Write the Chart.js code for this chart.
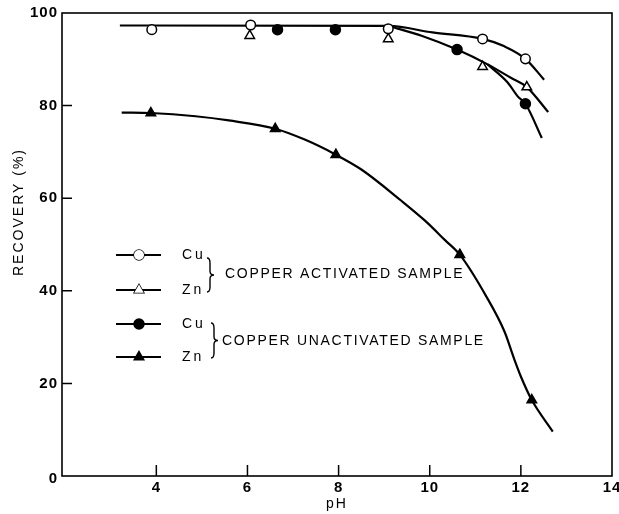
<!DOCTYPE html>
<html>
<head>
<meta charset="utf-8">
<script src="https://cdn.jsdelivr.net/npm/chart.js@4.4.0/dist/chart.umd.min.js"></script>
<style>
  html, body { margin: 0; padding: 0; background: #fff; }
  #wrap { width: 619px; height: 514px; }
</style>
</head>
<body>
<div id="wrap"><canvas id="chart"></canvas></div>
<script>
// tick labels
const xTicks = [4, 6, 8, 10, 12, 14];
const yTicks = [0, 20, 40, 60, 80, 100];

// measured points
const cuActPH = [3.9, 6.07, 9.09, 11.16, 12.1];
const cuActRec = [96.4, 97.4, 96.6, 94.4, 90.1];
const znActPH = [6.05, 9.09, 11.16, 12.13];
const znActRec = [95.1, 94.4, 88.4, 84.0];
const cuUnPH = [6.66, 7.93, 10.6, 12.1];
const cuUnRec = [96.4, 96.4, 92.1, 80.4];
const znUnPH = [3.88, 6.61, 7.94, 10.66, 12.24];
const znUnRec = [78.4, 75.0, 69.4, 47.8, 16.4];

// hand drawn curves
const cuActCurvePH = [3.2, 9.1, 10.06, 11.16, 11.64, 12.1, 12.51];
const cuActCurveRec = [97.3, 97.2, 95.8, 94.4, 92.8, 90.1, 85.6];
const znActCurvePH = [9.1, 9.82, 10.6, 11.27, 11.78, 12.13, 12.6];
const znActCurveRec = [97.2, 95.1, 92.1, 88.9, 86.0, 84.0, 78.6];
const cuUnCurvePH = [11.27, 11.71, 11.93, 12.1, 12.46];
const cuUnCurveRec = [88.9, 85.0, 82.0, 80.4, 73.0];
const znUnCurvePH = [3.24, 3.88, 4.86, 5.59, 6.61, 7.27, 7.94, 8.5, 9.37, 9.89, 10.33, 10.66, 11.24, 11.64, 11.86, 12.0, 12.24, 12.7];
const znUnCurveRec = [78.5, 78.4, 77.7, 76.8, 75.0, 72.6, 69.4, 66.2, 59.5, 55.2, 51.0, 47.8, 38.8, 31.2, 25.1, 21.5, 16.4, 9.6];

function pts(xs, ys) {
    return xs.map((x, i) => ({ x: x, y: ys[i] }));
}

function marker(xs, ys, style, fill, r) {
    return {
        data: pts(xs, ys),
        showLine: false,
        pointStyle: style,
        pointRadius: r,
        pointBackgroundColor: fill,
        pointBorderColor: '#000',
        pointBorderWidth: 1.5
    };
}

function curve(xs, ys) {
    return {
        data: pts(xs, ys),
        showLine: true,
        borderColor: '#000',
        borderWidth: 2.2,
        pointRadius: 0,
        cubicInterpolationMode: 'monotone'
    };
}

const FONT = "'Liberation Sans', Arial, sans-serif";

const decor = {
    id: 'decor',
    afterDraw(chart) {
        const ctx = chart.ctx;
        const a = chart.chartArea;
        const xs = chart.scales.x, ys = chart.scales.y;
        ctx.save();
        ctx.strokeStyle = '#000';
        ctx.fillStyle = '#000';

        // frame
        ctx.lineWidth = 1.6;
        ctx.strokeRect(a.left, a.top, a.right - a.left, a.bottom - a.top);

        // inward ticks
        ctx.lineWidth = 1.5;
        ctx.beginPath();
        xTicks.forEach(v => {
            if (v >= 14) return;
            const px = xs.getPixelForValue(v);
            ctx.moveTo(px, a.bottom);
            ctx.lineTo(px, a.bottom - 11);
        });
        yTicks.forEach(v => {
            if (v <= 0 || v >= 100) return;
            const py = ys.getPixelForValue(v);
            ctx.moveTo(a.left, py);
            ctx.lineTo(a.left + 10, py);
        });
        ctx.stroke();

        // tick labels
        ctx.font = 'bold 15px ' + FONT;
        ctx.letterSpacing = '1px';
        ctx.textBaseline = 'middle';
        ctx.textAlign = 'center';
        xTicks.forEach(v => {
            ctx.fillText(String(v), xs.getPixelForValue(v), a.bottom + 12);
        });
        ctx.textAlign = 'right';
        yTicks.forEach(v => {
            let py = ys.getPixelForValue(v);
            if (v === 0) py += 3;
            ctx.fillText(String(v), a.left - 4, py);
        });

        // axis titles
        ctx.font = '14px ' + FONT;
        ctx.letterSpacing = '2px';
        ctx.textAlign = 'center';
        ctx.fillText('pH', (a.left + a.right) / 2, 504);
        ctx.save();
        ctx.translate(19, 212);
        ctx.rotate(-Math.PI / 2);
        ctx.fillText('RECOVERY (%)', 0, 0);
        ctx.restore();

        // legend
        const rows = [
            { y: 255, style: 'circle', fill: '#fff', label: 'Cu' },
            { y: 290, style: 'triangle', fill: '#fff', label: 'Zn' },
            { y: 324, style: 'circle', fill: '#000', label: 'Cu' },
            { y: 357, style: 'triangle', fill: '#000', label: 'Zn' }
        ];
        rows.forEach(r => {
            ctx.lineWidth = 2.2;
            ctx.beginPath();
            ctx.moveTo(116, r.y);
            ctx.lineTo(161, r.y);
            ctx.stroke();
            ctx.lineWidth = 1.5;
            ctx.fillStyle = r.fill;
            const rad = r.style === 'circle' ? 5 : 5.5;
            Chart.helpers.drawPoint(ctx, { pointStyle: r.style, radius: rad, borderWidth: 1.5 }, 139, r.y);
            ctx.fill();
            ctx.fillStyle = '#000';
            ctx.font = '14px ' + FONT;
            ctx.letterSpacing = '3px';
            ctx.textAlign = 'left';
            ctx.fillText(r.label, 182, r.y);
        });

        function brace(x, y0, y1) {
            const m = (y0 + y1) / 2;
            ctx.lineWidth = 1.4;
            ctx.beginPath();
            ctx.moveTo(x - 3, y0);
            ctx.quadraticCurveTo(x, y0, x, y0 + 5);
            ctx.lineTo(x, m - 4);
            ctx.quadraticCurveTo(x, m, x + 4, m);
            ctx.quadraticCurveTo(x, m, x, m + 4);
            ctx.lineTo(x, y1 - 5);
            ctx.quadraticCurveTo(x, y1, x - 3, y1);
            ctx.stroke();
        }
        brace(210, 258, 292);
        brace(214, 323, 358);

        ctx.font = '14px ' + FONT;
        ctx.letterSpacing = '1.7px';
        ctx.textAlign = 'left';
        ctx.fillText('COPPER ACTIVATED SAMPLE', 225, 274);
        ctx.fillText('COPPER UNACTIVATED SAMPLE', 222, 341);
        ctx.restore();
    }
};

new Chart(document.getElementById('chart'), {
    type: 'scatter',
    data: {
        datasets: [
            marker(cuActPH, cuActRec, 'circle', '#fff', 4.8),
            marker(znActPH, znActRec, 'triangle', '#fff', 5.5),
            marker(cuUnPH, cuUnRec, 'circle', '#000', 5),
            marker(znUnPH, znUnRec, 'triangle', '#000', 5.5),
            curve(cuActCurvePH, cuActCurveRec),
            curve(znActCurvePH, znActCurveRec),
            curve(cuUnCurvePH, cuUnCurveRec),
            curve(znUnCurvePH, znUnCurveRec)
        ]
    },
    options: {
        responsive: true,
        maintainAspectRatio: false,
        animation: false,
        layout: { padding: { left: 62, right: 6, top: 13, bottom: 38 } },
        plugins: { legend: { display: false }, tooltip: { enabled: false } },
        scales: {
            x: { type: 'linear', min: 1.93, max: 14, display: false },
            y: { type: 'linear', min: 0, max: 100, display: false }
        }
    },
    plugins: [decor]
});
</script>
</body>
</html>
